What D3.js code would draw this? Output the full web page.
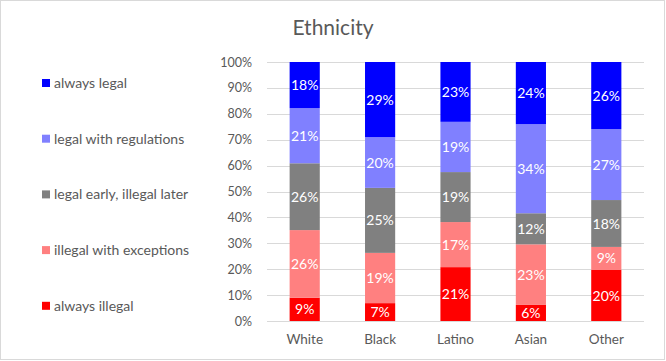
<!DOCTYPE html>
<html>
<head>
<meta charset="utf-8">
<script src="https://cdn.jsdelivr.net/npm/d3@7"></script>
<style>
  body { margin: 0; background: #fff; }
  text { font-family: Lato, "Open Sans", sans-serif; }
</style>
</head>
<body>
<svg width="666" height="361"></svg>
<script>
const groups = ["White", "Black", "Latino", "Asian", "Other"]
const series = ["always illegal", "illegal with exceptions", "legal early, illegal later", "legal with regulations", "always legal"]
const colors = ["#ff0000", "#ff8080", "#808080", "#8080ff", "#0000ff"]

// percent of each group, bottom segment first
const always_illegal = [9.0, 6.9, 20.8, 6.2, 19.7]
const illegal_exceptions = [26.1, 19.4, 17.4, 23.4, 8.9]
const legal_early = [25.8, 25.1, 19.3, 12.0, 18.1]
const legal_regulations = [21.3, 19.6, 19.4, 34.4, 27.4]
const always_legal = [17.8, 29.0, 23.1, 24.0, 25.9]

const y_ticks = [0, 10, 20, 30, 40, 50, 60, 70, 80, 90, 100]

const plot_left = 267
const plot_right = 644
const plot_top = 62
const plot_bottom = 321
const text_color = "#595959"
const grid_color = "#d9d9d9"

const columns = [always_illegal, illegal_exceptions, legal_early, legal_regulations, always_legal]
const table = groups.map((g, i) => {
    const row = { group: g }
    series.forEach((s, j) => row[s] = columns[j][i])
    return row
})

const stacked = d3.stack().keys(series)(table)

const svg = d3.select("svg")

svg.append("rect")
    .attr("x", 0.5).attr("y", 0.5)
    .attr("width", 664).attr("height", 359)
    .attr("fill", "#fff")
    .attr("stroke", grid_color)

const x = d3.scaleBand().domain(groups).range([plot_left, plot_right]).paddingInner(0.6).paddingOuter(0.3)
const y = d3.scaleLinear().domain([0, 100]).range([plot_bottom, plot_top])

// gridlines
svg.append("g")
    .selectAll("line")
    .data(y_ticks)
    .enter()
    .append("line")
    .attr("x1", plot_left)
    .attr("x2", plot_right)
    .attr("y1", d => Math.round(y(d)) + 0.5)
    .attr("y2", d => Math.round(y(d)) + 0.5)
    .attr("stroke", grid_color)
    .attr("stroke-width", 1)

// y axis labels
const y_axis = svg.append("g")
    .attr("transform", `translate(${plot_left - 15},0)`)
    .call(d3.axisLeft(y).tickValues(y_ticks).tickFormat(d => d + "%").tickSize(0).tickPadding(0))
y_axis.select(".domain").remove()
y_axis.selectAll("text")
    .attr("fill", text_color)
    .style("font-size", "12.5px")
    .style("font-family", "Lato, sans-serif")

// bars
const layer = svg.append("g")
    .selectAll("g")
    .data(stacked)
    .enter()
    .append("g")
    .attr("fill", (d, i) => colors[i])

layer.selectAll("rect")
    .data(d => d)
    .enter()
    .append("rect")
    .attr("x", d => x(d.data.group))
    .attr("width", x.bandwidth())
    .attr("y", d => y(d[1]))
    .attr("height", d => y(d[0]) - y(d[1]))

layer.selectAll("text")
    .data(d => d)
    .enter()
    .append("text")
    .attr("x", d => x(d.data.group) + x.bandwidth() / 2)
    .attr("y", d => (y(d[0]) + y(d[1])) / 2)
    .attr("dy", "0.36em")
    .attr("text-anchor", "middle")
    .attr("fill", "#fff")
    .style("font-size", "14px")
    .text(d => Math.round(d[1] - d[0]) + "%")

// x axis labels
const x_axis = svg.append("g")
    .attr("transform", `translate(0,${plot_bottom + 13})`)
    .call(d3.axisBottom(x).tickSize(0).tickPadding(0))
x_axis.select(".domain").remove()
x_axis.selectAll("text")
    .attr("fill", text_color)
    .style("font-size", "13.5px")
    .style("font-family", "Lato, sans-serif")

// title
svg.append("text")
    .attr("x", 333)
    .attr("y", 35)
    .attr("text-anchor", "middle")
    .attr("fill", text_color)
    .style("font-size", "21px")
    .text("Ethnicity")

// legend, top item is the top segment
const legend = svg.append("g")
    .selectAll("g")
    .data(series.slice().reverse())
    .enter()
    .append("g")
    .attr("transform", (d, i) => `translate(42,${83 + i * 55.7})`)

legend.append("rect")
    .attr("x", 0)
    .attr("y", -4)
    .attr("width", 8)
    .attr("height", 8)
    .attr("fill", d => colors[series.indexOf(d)])

legend.append("text")
    .attr("x", 12)
    .attr("y", 0)
    .attr("dy", "0.36em")
    .attr("fill", text_color)
    .style("font-size", "14px")
    .text(d => d)
</script>
</body>
</html>
